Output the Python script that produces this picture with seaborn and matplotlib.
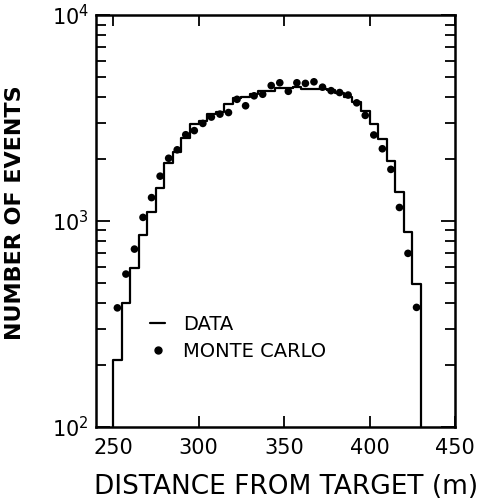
import numpy as np
import pandas as pd
import matplotlib
matplotlib.use('Agg')
import matplotlib.pyplot as plt
from matplotlib.lines import Line2D
from matplotlib.ticker import FixedLocator, LogLocator, NullLocator, NullFormatter
import seaborn as sns

# 5 m bins from 250 m to 430 m, with an empty bin on each side
bin_edges = list(range(245, 436, 5))
bin_centers = [e + 2.5 for e in bin_edges[:-1]]

# measured distribution (histogram line)
data_counts = [0, 211, 400, 589, 855, 1109, 1443, 1919, 2168, 2535, 2944,
               3055, 3294, 3394, 3690, 3950, 4000, 4140, 4300, 4300, 4450,
               4450, 4460, 4370, 4400, 4375, 4305, 4207, 4018, 3787, 3410,
               2944, 2494, 1963, 1387, 881, 493, 0]

# Monte Carlo prediction (dots), one per bin 250-430
mc_distance = bin_centers[1:-1]
mc_counts = [379, 553, 731, 1042, 1300, 1652, 2018, 2218, 2625, 2749,
             2979, 3198, 3305, 3364, 3900, 3629, 4056, 4127, 4548, 4693,
             4266, 4693, 4660, 4744, 4467, 4296, 4207, 4091, 3750, 3259,
             2618, 2244, 1782, 1164, 697, 381]

x_ticks = [250, 300, 350, 400, 450]

hist_df = pd.DataFrame({'distance': bin_centers, 'events': data_counts})
mc_df = pd.DataFrame({'distance': mc_distance, 'events': mc_counts})

sns.set_style('ticks', rc={'text.color': 'black', 'axes.labelcolor': 'black',
                           'xtick.color': 'black', 'ytick.color': 'black',
                           'axes.edgecolor': 'black'})
plt.rcParams['font.family'] = ['DejaVu Sans']

fig = plt.figure(figsize=(5, 5.03), dpi=100)
ax = fig.add_axes([0.192, 0.151, 0.718, 0.819])
ax.set_yscale('log')

sns.histplot(data=hist_df, x='distance', weights='events', bins=bin_edges,
             element='step', fill=False, color='black', linewidth=1.6, ax=ax)
sns.scatterplot(data=mc_df, x='distance', y='events', color='black', s=30,
                edgecolor='none', ax=ax)

ax.set_xlim(240, 450)
ax.set_ylim(100, 10000)

ax.xaxis.set_major_locator(FixedLocator(x_ticks))
ax.xaxis.set_minor_locator(NullLocator())
ax.yaxis.set_major_locator(LogLocator(base=10))
ax.yaxis.set_minor_locator(LogLocator(base=10, subs=np.arange(2, 10)))
ax.yaxis.set_minor_formatter(NullFormatter())

ax.tick_params(which='both', direction='in', top=True, right=True,
               width=1.3, colors='black')
ax.tick_params(axis='x', which='major', length=8, pad=8, labelsize=15)
ax.tick_params(axis='y', which='major', length=10, pad=5, labelsize=15)
ax.tick_params(axis='y', which='minor', length=7)

for sp in ax.spines.values():
    sp.set_linewidth(1.8)

ax.set_xlabel('DISTANCE FROM TARGET (m)', fontsize=19)
ax.set_ylabel('NUMBER OF EVENTS', fontsize=16, fontweight='bold')
ax.xaxis.set_label_coords(0.53, -0.113)
ax.yaxis.set_label_coords(-0.198, 0.52)

handles = [Line2D([], [], color='black', lw=1.6),
           Line2D([], [], marker='o', ls='none', color='black', ms=5)]
ax.legend(handles, ['DATA', 'MONTE CARLO'], loc='upper left',
          bbox_to_anchor=(0.15, 0.272), frameon=False, fontsize=14,
          handlelength=0.8, handletextpad=0.9, labelspacing=0.4,
          borderpad=0, borderaxespad=0)

fig.savefig('out.png', dpi=100)
